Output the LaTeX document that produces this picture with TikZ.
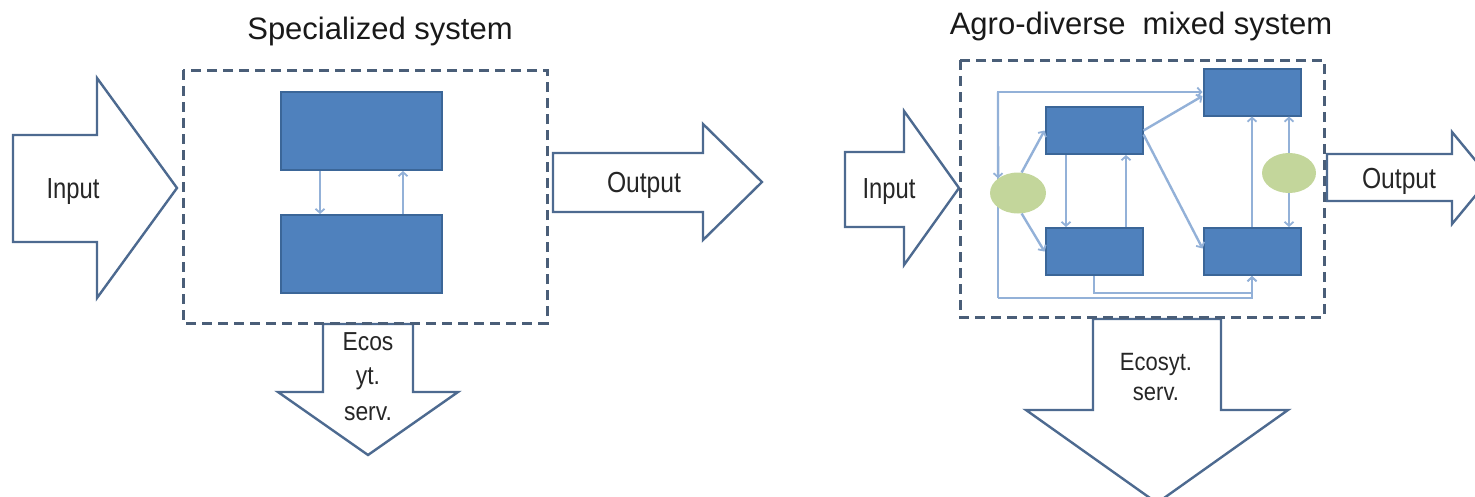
\documentclass[tikz,border=0pt]{standalone}
\usepackage{fontspec}
\setmainfont{Liberation Sans}
\usepackage{graphicx}
\usetikzlibrary{arrows.meta,shapes.geometric}
\definecolor{blockfill}{HTML}{4F81BD}
\definecolor{blockline}{HTML}{3B6698}
\definecolor{arrowline}{HTML}{4D6A90}
\definecolor{dashline}{HTML}{4A5E78}
\definecolor{connline}{HTML}{93B1D8}
\definecolor{ellfill}{HTML}{C3D69B}
\pgfdeclarelayer{bg}
\pgfsetlayers{bg,main}
\begin{document}
\begin{tikzpicture}[x=1pt,y=-1pt,
  block/.style={draw=blockline,fill=blockfill,line width=2pt,inner sep=0pt},
  bigarrow/.style={draw=arrowline,fill=white,line width=2.4pt,line join=miter},
  sysbox/.style={draw=dashline,line width=3pt,dash pattern=on 10pt off 6pt},
  conn/.style={draw=connline,line width=2.4pt,-{Straight Barb[length=4pt,width=9pt,line width=1.8pt]}},
  ell/.style={ellipse,fill=ellfill,draw=none,inner sep=0pt},
  lbl/.style={font=\fontsize{29}{31}\selectfont,inner sep=0pt,anchor=base,text=black!85},
  elbl/.style={font=\fontsize{26}{28}\selectfont,inner sep=0pt,anchor=base,text=black!85},
  ttl/.style={font=\fontsize{31}{34}\selectfont,inner sep=0pt,anchor=base,text=black!90}
]
\path[use as bounding box] (0,0) rectangle (1475,496);
\clip (0,0) rectangle (1475,496);

% ---------- left: specialized system ----------
\draw[bigarrow] (13,135) -- (97,135) -- (97,78) -- (177,188) -- (97,298) -- (97,242) -- (13,242) -- cycle;
\draw[bigarrow] (553,153) -- (703,153) -- (703,124) -- (762,182) -- (703,240) -- (703,212) -- (553,212) -- cycle;
\draw[bigarrow] (323,324) -- (413,324) -- (413,392) -- (458,392) -- (368,455) -- (278,392) -- (323,392) -- cycle;
\draw[sysbox] (183,70) rectangle (547,323);

\node[ttl] (t1) at (380,39) {Specialized system};
\node[lbl] (in1) at (73,198) {\scalebox{0.82}[1]{Input}};
\node[lbl] (out1) at (644,192) {\scalebox{0.85}[1]{Output}};
\node[elbl] (ec1a) at (368,350) {\scalebox{0.88}[1]{Ecos}};
\node[elbl] (ec1b) at (368,384) {\scalebox{0.88}[1]{yt.}};
\node[elbl] (ec1c) at (368,420) {\scalebox{0.88}[1]{serv.}};

\node[block,minimum width=161pt,minimum height=78pt] (LA) at (361.5,131) {};
\node[block,minimum width=161pt,minimum height=78pt] (LB) at (361.5,254) {};
\draw[conn] ([xshift=-41.5pt]LA.south) -- ([xshift=-41.5pt]LB.north);
\draw[conn] ([xshift=41.5pt]LB.north) -- ([xshift=41.5pt]LA.south);

% ---------- right: agro-diverse mixed system ----------
\draw[bigarrow] (845,152) -- (904,152) -- (904,111) -- (959,188) -- (904,265) -- (904,227) -- (845,227) -- cycle;
\draw[bigarrow] (1327,154) -- (1452,154) -- (1452,132) -- (1490,178) -- (1452,224) -- (1452,201) -- (1327,201) -- cycle;
\draw[bigarrow] (1093,319) -- (1221,319) -- (1221,410) -- (1288,410) -- (1157,503) -- (1026,410) -- (1093,410) -- cycle;
\draw[sysbox] (960,60) rectangle (1324,317);

\node[ttl] (t2) at (1141,34) {Agro-diverse\ \ mixed system};
\node[lbl] (in2) at (889,198) {\scalebox{0.82}[1]{Input}};
\node[lbl] (out2) at (1399,188) {\scalebox{0.85}[1]{Output}};
\node[elbl,font=\fontsize{25}{27}\selectfont] (ec2a) at (1156,370) {\scalebox{0.88}[1]{Ecosyt.}};
\node[elbl,font=\fontsize{25}{27}\selectfont] (ec2b) at (1156,400) {\scalebox{0.88}[1]{serv.}};

\node[block,minimum width=97pt,minimum height=47pt] (B1) at (1094,130.5) {};
\node[block,minimum width=97pt,minimum height=47pt] (B2) at (1252,92) {};
\node[block,minimum width=97pt,minimum height=47pt] (B3) at (1094,251.5) {};
\node[block,minimum width=97pt,minimum height=47pt] (B4) at (1252,251.5) {};
\node[ell,minimum width=56pt,minimum height=41pt] (E1) at (1018,193) {};
\node[ell,minimum width=54pt,minimum height=40pt] (E2) at (1289,173) {};

\coordinate (LL) at (998,298);
\coordinate (IC) at (1094,293);
\begin{pgfonlayer}{bg}
\draw[conn] (LL) |- (B2.west);
\draw[conn] (LL |- B2.west) -- (E1.north west);
\end{pgfonlayer}
\draw[conn] (LL) -| (B4.south);
\draw[conn] (B3.south) -- (IC) -| (B4.south);
\draw[conn] (E1.80) -- (B1.west);
\draw[conn] (E1.-80) -- (B3.west);
\draw[conn] ([xshift=-28pt]B1.south) -- ([xshift=-28pt]B3.north);
\draw[conn] ([xshift=32pt]B3.north) -- ([xshift=32pt]B1.south);
\draw[conn] (B1.east) -- ([yshift=-4pt]B2.west);
\draw[conn] ([yshift=-4pt]B1.east) -- ([yshift=3pt]B4.west);
\draw[conn] (B4.north) -- (B2.south);
\draw[conn] (E2.north) -- (E2.north |- B2.south);
\draw[conn] (E2.south) -- (E2.south |- B4.north);
\end{tikzpicture}
\end{document}
